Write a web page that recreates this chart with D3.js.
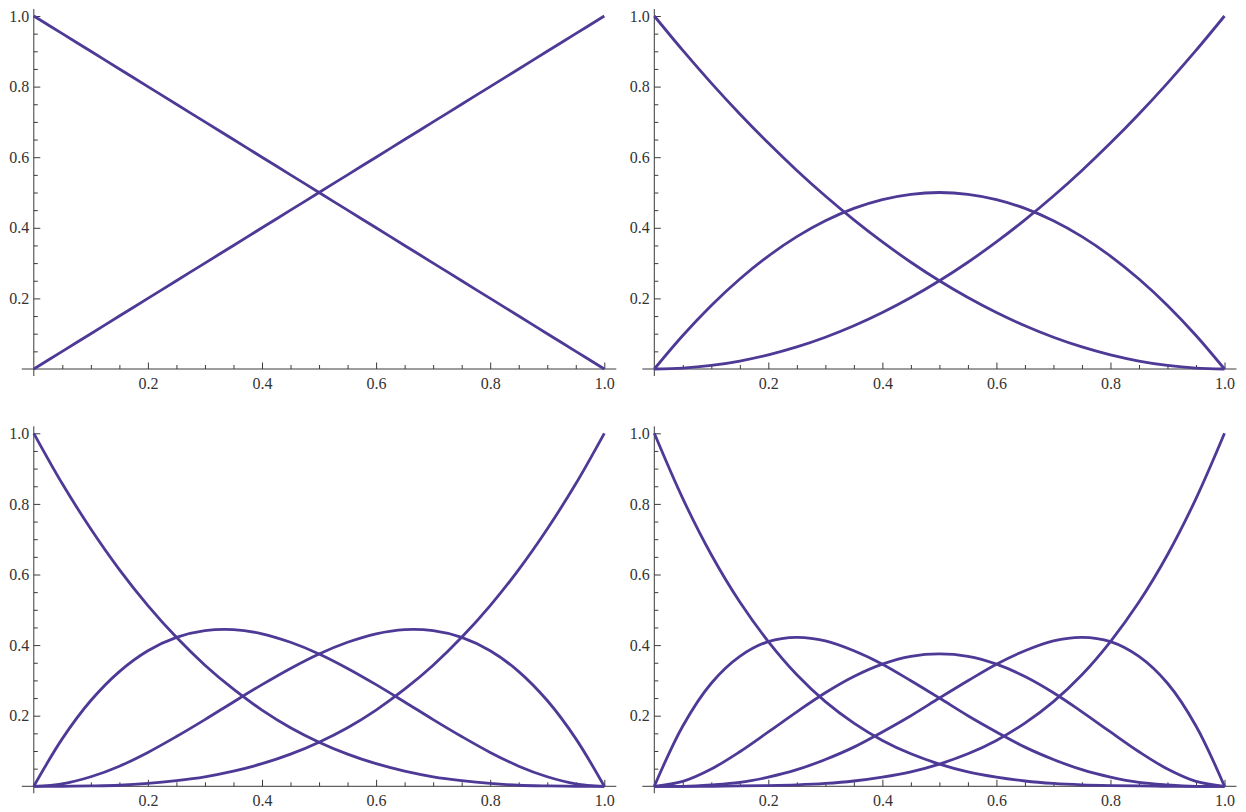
<!DOCTYPE html>
<html>
<head>
<meta charset="utf-8">
<script src="https://d3js.org/d3.v7.min.js"></script>
<style>
  body { margin: 0; background: #fff; }
  svg { display: block; }
  .tick text { font-family: 'Liberation Serif', 'Times New Roman', Times, serif; }
</style>
</head>
<body>
<svg id="drawing_region"></svg>
<script>
// sample positions along x, shared by every curve
const xs = [0, 0.05, 0.1, 0.15, 0.2, 0.25, 0.3, 0.35, 0.4, 0.45, 0.5,
            0.55, 0.6, 0.65, 0.7, 0.75, 0.8, 0.85, 0.9, 0.95, 1];

// degree 1
const deg1_a = [1, 0.95, 0.9, 0.85, 0.8, 0.75, 0.7, 0.65, 0.6, 0.55, 0.5, 0.45, 0.4, 0.35, 0.3, 0.25, 0.2, 0.15, 0.1, 0.05, 0];
const deg1_b = [0, 0.05, 0.1, 0.15, 0.2, 0.25, 0.3, 0.35, 0.4, 0.45, 0.5, 0.55, 0.6, 0.65, 0.7, 0.75, 0.8, 0.85, 0.9, 0.95, 1];

// degree 2
const deg2_a = [1, 0.9025, 0.81, 0.7225, 0.64, 0.5625, 0.49, 0.4225, 0.36, 0.3025, 0.25, 0.2025, 0.16, 0.1225, 0.09, 0.0625, 0.04, 0.0225, 0.01, 0.0025, 0];
const deg2_b = [0, 0.095, 0.18, 0.255, 0.32, 0.375, 0.42, 0.455, 0.48, 0.495, 0.5, 0.495, 0.48, 0.455, 0.42, 0.375, 0.32, 0.255, 0.18, 0.095, 0];
const deg2_c = [0, 0.0025, 0.01, 0.0225, 0.04, 0.0625, 0.09, 0.1225, 0.16, 0.2025, 0.25, 0.3025, 0.36, 0.4225, 0.49, 0.5625, 0.64, 0.7225, 0.81, 0.9025, 1];

// degree 3
const deg3_a = [1, 0.857, 0.729, 0.614, 0.512, 0.422, 0.343, 0.275, 0.216, 0.166, 0.125, 0.091, 0.064, 0.043, 0.027, 0.016, 0.008, 0.003, 0.001, 0, 0];
const deg3_b = [0, 0.135, 0.243, 0.325, 0.384, 0.422, 0.441, 0.444, 0.432, 0.408, 0.375, 0.334, 0.288, 0.239, 0.189, 0.141, 0.096, 0.057, 0.027, 0.007, 0];
const deg3_c = [0, 0.007, 0.027, 0.057, 0.096, 0.141, 0.189, 0.239, 0.288, 0.334, 0.375, 0.408, 0.432, 0.444, 0.441, 0.422, 0.384, 0.325, 0.243, 0.135, 0];
const deg3_d = [0, 0, 0.001, 0.003, 0.008, 0.016, 0.027, 0.043, 0.064, 0.091, 0.125, 0.166, 0.216, 0.275, 0.343, 0.422, 0.512, 0.614, 0.729, 0.857, 1];

// degree 4
const deg4_a = [1, 0.815, 0.656, 0.522, 0.41, 0.316, 0.24, 0.179, 0.13, 0.092, 0.063, 0.041, 0.026, 0.015, 0.008, 0.004, 0.002, 0.001, 0, 0, 0];
const deg4_b = [0, 0.171, 0.292, 0.368, 0.41, 0.422, 0.412, 0.384, 0.346, 0.299, 0.25, 0.2, 0.154, 0.111, 0.076, 0.047, 0.026, 0.011, 0.004, 0, 0];
const deg4_c = [0, 0.014, 0.049, 0.098, 0.154, 0.211, 0.265, 0.311, 0.346, 0.368, 0.375, 0.368, 0.346, 0.311, 0.265, 0.211, 0.154, 0.098, 0.049, 0.014, 0];
const deg4_d = [0, 0, 0.004, 0.011, 0.026, 0.047, 0.076, 0.111, 0.154, 0.2, 0.25, 0.299, 0.346, 0.384, 0.412, 0.422, 0.41, 0.368, 0.292, 0.171, 0];
const deg4_e = [0, 0, 0, 0.001, 0.002, 0.004, 0.008, 0.015, 0.026, 0.041, 0.063, 0.092, 0.13, 0.179, 0.24, 0.316, 0.41, 0.522, 0.656, 0.815, 1];

// tick values
const major_ticks = [0.2, 0.4, 0.6, 0.8, 1.0];
const minor_ticks = [0.05, 0.1, 0.15, 0.25, 0.3, 0.35, 0.45, 0.5, 0.55, 0.65, 0.7, 0.75, 0.85, 0.9, 0.95];

const panels = [
    { series: [deg1_a, deg1_b], left: 33.8, right: 604.3, top: 16, bottom: 369 },
    { series: [deg2_a, deg2_b, deg2_c], left: 654.3, right: 1224.5, top: 16, bottom: 369 },
    { series: [deg3_a, deg3_b, deg3_c, deg3_d], left: 33.8, right: 604.3, top: 433.3, bottom: 786.3 },
    { series: [deg4_a, deg4_b, deg4_c, deg4_d, deg4_e], left: 654.3, right: 1224.5, top: 433.3, bottom: 786.3 }
];

const line_color = '#4e3a96';
const axis_color = '#3a3a3a';
const label_font = "Liberation Serif";

const svg = d3.select('#drawing_region')
    .attr('width', 1246)
    .attr('height', 812);

panels.forEach(p => {
    const xscale = d3.scaleLinear().domain([0, 1]).range([p.left, p.right]);
    const yscale = d3.scaleLinear().domain([0, 1]).range([p.bottom, p.top]);

    const g = svg.append('g');

    // axis lines, a little longer than the data range
    g.append('line')
        .attr('x1', xscale(0) - 12).attr('x2', xscale(1) + 12)
        .attr('y1', yscale(0)).attr('y2', yscale(0))
        .attr('stroke', axis_color).attr('stroke-width', 1);
    g.append('line')
        .attr('x1', xscale(0)).attr('x2', xscale(0))
        .attr('y1', yscale(0) + 7).attr('y2', yscale(1) - 7)
        .attr('stroke', axis_color).attr('stroke-width', 1);

    const styleAxis = sel => {
        sel.attr('font-family', label_font).attr('font-size', 16);
        sel.select('.domain').remove();
        sel.selectAll('line').attr('stroke', axis_color);
        sel.selectAll('text')
            .attr('fill', '#333')
            .attr('font-family', label_font);
    };

    // x axis
    g.append('g')
        .attr('transform', `translate(0, ${yscale(0)})`)
        .call(d3.axisBottom(xscale).tickValues(minor_ticks).tickSize(-4).tickFormat(''))
        .call(styleAxis);
    g.append('g')
        .attr('transform', `translate(0, ${yscale(0)})`)
        .call(d3.axisBottom(xscale).tickValues(major_ticks).tickSize(-6.5).tickPadding(8.5)
            .tickFormat(d3.format('.1f')))
        .call(styleAxis);

    // y axis
    g.append('g')
        .attr('transform', `translate(${xscale(0)}, 0)`)
        .call(d3.axisLeft(yscale).tickValues(minor_ticks).tickSize(-4).tickFormat(''))
        .call(styleAxis);
    g.append('g')
        .attr('transform', `translate(${xscale(0)}, 0)`)
        .call(d3.axisLeft(yscale).tickValues(major_ticks).tickSize(-6.5).tickPadding(4.5)
            .tickFormat(d3.format('.1f')))
        .call(styleAxis);

    const line = d3.line()
        .x((d, i) => xscale(xs[i]))
        .y(d => yscale(d))
        .curve(d3.curveCatmullRom.alpha(0.5));

    g.selectAll('path.curve')
        .data(p.series)
        .enter()
        .append('path')
        .attr('class', 'curve')
        .attr('d', d => line(d))
        .attr('fill', 'none')
        .attr('stroke', line_color)
        .attr('stroke-width', 2.8);
});
</script>
</body>
</html>
